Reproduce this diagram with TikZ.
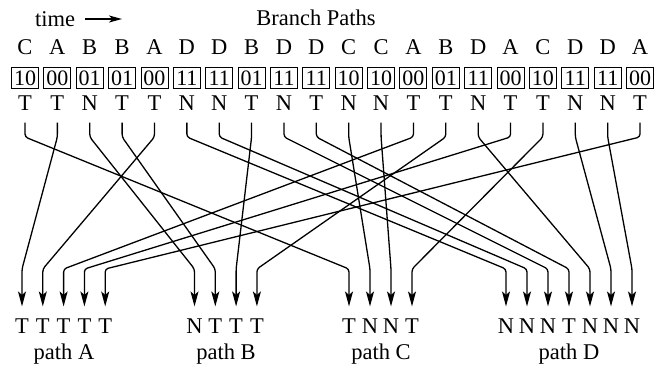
\documentclass[tikz,border=0pt]{standalone}
\usepackage{fontspec}
\setmainfont{Liberation Serif}
\usetikzlibrary{arrows.meta}
\begin{document}
\begin{tikzpicture}[x=1pt,y=-1pt,
  lab/.style={font=\fontsize{22.5}{26}\selectfont, inner sep=0pt},
  bits/.style={draw, line width=0.9pt, minimum width=27pt, minimum height=21pt,
               inner sep=0pt, font=\fontsize{22}{26}\selectfont},
  flow/.style={line width=1.3pt, rounded corners=3pt, shorten <=12pt, shorten >=12pt,
               -{Stealth[length=15pt,width=8pt,inset=3.5pt]}},
]
\useasboundingbox (0,0) rectangle (663,366);

% heading
\node[lab] (time) at (55,19) {time};
\coordinate (timeend) at (122,19);
\draw[line width=1.3pt, -{Stealth[length=13pt,width=7pt,inset=3.5pt]}]
  ([xshift=10pt]time.east) -- (timeend);
\node[lab] (title) at (316,18) {Branch Paths};

% branch stream: target, 2-bit code, outcome
\foreach \lt/\bt/\dir [count=\k from 0] in
  {C/10/T, A/00/T, B/01/N, B/01/T, A/00/T, D/11/N, D/11/N, B/01/T, D/11/N, D/11/T,
   C/10/N, C/10/N, A/00/T, B/01/T, D/11/N, A/00/T, C/10/T, D/11/N, D/11/N, A/00/T}
{
  \node[lab]  (l\k) at (25+32.37*\k, 47) {\lt};
  \node[bits] (c\k) at (25+32.37*\k, 78) {\bt};
  \node[lab]  (t\k) at (25+32.37*\k,103) {\dir};
}

% per-path outcome queues
\foreach \dir [count=\k] in {T,T,T,T,T}
  \node[lab] (pa\k) at (22+20.8*\k-20.8,326) {\dir};
\foreach \dir [count=\k] in {N,T,T,T}
  \node[lab] (pb\k) at (194.5+20.8*\k-20.8,326) {\dir};
\foreach \dir [count=\k] in {T,N,N,T}
  \node[lab] (pc\k) at (349+21*\k-21,326) {\dir};
\foreach \dir [count=\k] in {N,N,N,T,N,N,N}
  \node[lab] (pd\k) at (506+21*\k-21,326) {\dir};

\node[lab] (nameA) at (64,354)  {path A};
\node[lab] (nameB) at (226,354) {path B};
\node[lab] (nameC) at (381,354) {path C};
\node[lab] (nameD) at (569,354) {path D};

% bend heights of the routing lines
\coordinate (topbend) at (0,137);
\coordinate (lowbend) at (0,269);

\foreach \src/\dst in {0/pc1, 1/pa1, 2/pb1, 3/pb2, 4/pa2, 5/pd1, 6/pd2, 7/pb3,
                       8/pd3, 9/pd4, 10/pc2, 11/pc3, 12/pa3, 13/pb4, 14/pd5,
                       15/pa4, 16/pc4, 17/pd6, 18/pd7, 19/pa5}
  \draw[flow] (t\src.south) -- (t\src.south |- topbend) -- (\dst |- lowbend) -- (\dst.north);
\end{tikzpicture}
\end{document}
